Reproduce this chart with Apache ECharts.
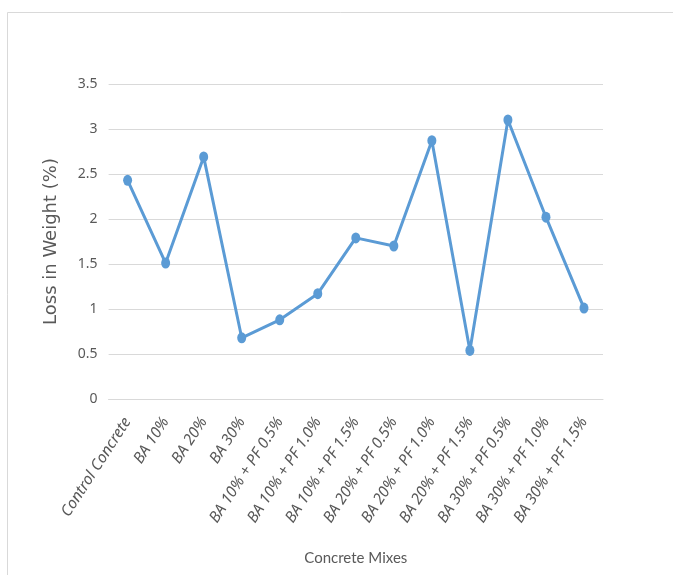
<!DOCTYPE html>
<html>
<head>
<meta charset="utf-8">
<script src="https://cdn.jsdelivr.net/npm/echarts@6/dist/echarts.min.js"></script>
<style>html,body{margin:0;padding:0;background:#fff;}#c{width:673px;height:575px;}</style>
</head>
<body>
<div id="c"></div>
<script>
const categories = ["Control Concrete","BA 10%","BA 20%","BA 30%","BA 10% + PF 0.5%","BA 10% + PF 1.0%","BA 10% + PF 1.5%","BA 20% + PF 0.5%","BA 20% + PF 1.0%","BA 20% + PF 1.5%","BA 30% + PF 0.5%","BA 30% + PF 1.0%","BA 30% + PF 1.5%"];
const lossInWeight = [2.43, 1.51, 2.69, 0.68, 0.88, 1.17, 1.79, 1.70, 2.87, 0.54, 3.10, 2.02, 1.01];
const yTicks = [0, 0.5, 1, 1.5, 2, 2.5, 3, 3.5];

const chart = echarts.init(document.getElementById('c'));
chart.setOption({
  backgroundColor: '#fff',
  animation: false,
  graphic: [{
    type: 'rect', shape: {x: 7.5, y: 12.5, width: 720, height: 620},
    style: {fill: 'none', stroke: '#d9d9d9', lineWidth: 1}, z: -1
  }],
  grid: {left: 108.6, right: 70, top: 84, bottom: 176, containLabel: false},
  xAxis: {
    type: 'category', data: categories, boundaryGap: true,
    axisLine: {show: true, lineStyle: {color: '#d9d9d9', width: 1}},
    axisTick: {show: false},
    axisLabel: {rotate: 57, interval: 0, margin: 20, color: '#595959', fontSize: 15.5, fontFamily: "'Noto Sans', sans-serif", fontStyle: 'italic'},
    name: 'Concrete Mixes', nameLocation: 'middle', nameGap: 152,
    nameTextStyle: {color: '#595959', fontSize: 15, fontFamily: "Lato, sans-serif"}
  },
  yAxis: {
    type: 'value', min: yTicks[0], max: yTicks[yTicks.length - 1], interval: 0.5,
    axisLine: {show: false}, axisTick: {show: false},
    splitLine: {lineStyle: {color: '#d9d9d9', width: 1}},
    axisLabel: {margin: 11, color: '#595959', fontSize: 14, fontFamily: "'Noto Sans', sans-serif"},
    name: 'Loss in Weight (%)', nameLocation: 'middle', nameGap: 48, nameRotate: 90,
    nameTextStyle: {color: '#595959', fontSize: 18, fontFamily: "'DejaVu Sans', sans-serif"}
  },
  series: [{
    type: 'line', data: lossInWeight,
    symbol: 'circle', symbolSize: [9, 11],
    lineStyle: {color: '#5b9bd5', width: 3},
    itemStyle: {color: '#5b9bd5'}
  }]
});
</script>
</body>
</html>
